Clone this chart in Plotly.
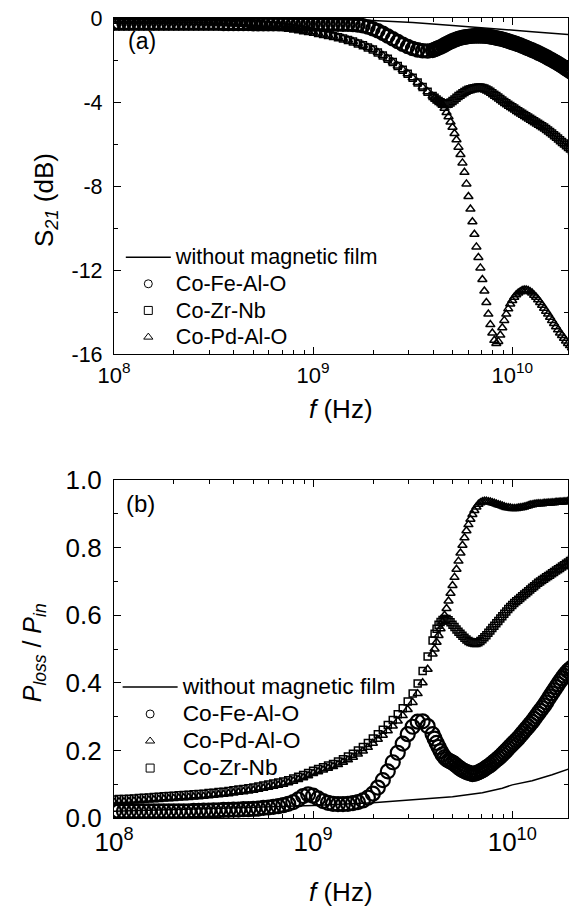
import plotly.graph_objects as go

# ---------------- data (log10 of frequency in Hz) ----------------
LOGF = [8.000, 8.025, 8.050, 8.075, 8.100, 8.125, 8.150, 8.175, 8.200, 8.225,
        8.250, 8.275, 8.300, 8.325, 8.350, 8.375, 8.400, 8.425, 8.450, 8.475,
        8.500, 8.525, 8.550, 8.575, 8.600, 8.625, 8.650, 8.675, 8.700, 8.725,
        8.750, 8.775, 8.800, 8.825, 8.850, 8.875, 8.900, 8.925, 8.950, 8.975,
        9.000, 9.025, 9.050, 9.075, 9.100, 9.125, 9.150, 9.175, 9.200, 9.225,
        9.250, 9.275, 9.300, 9.325, 9.350, 9.375, 9.400, 9.425, 9.450, 9.475,
        9.500, 9.525, 9.550, 9.575, 9.600,
        9.61, 9.62, 9.63, 9.64, 9.65, 9.66, 9.67, 9.68, 9.69, 9.70,
        9.71, 9.72, 9.73, 9.74, 9.75, 9.76, 9.77, 9.78, 9.79, 9.80,
        9.81, 9.82, 9.83, 9.84, 9.85, 9.86, 9.87, 9.88, 9.89, 9.90,
        9.91, 9.92, 9.93, 9.94, 9.95, 9.96, 9.97, 9.98, 9.99, 10.00,
        10.01, 10.02, 10.03, 10.04, 10.05, 10.06, 10.07, 10.08, 10.09, 10.10,
        10.11, 10.12, 10.13, 10.14, 10.15, 10.16, 10.17, 10.18, 10.19, 10.20,
        10.21, 10.22, 10.23, 10.24, 10.25, 10.26, 10.27, 10.28, 10.29, 10.30]

# (a) S21 in dB
s21_cofe = [-0.25, -0.25, -0.25, -0.25, -0.25, -0.25, -0.25, -0.25, -0.25, -0.25,
            -0.25, -0.25, -0.25, -0.25, -0.25, -0.25, -0.25, -0.25, -0.25, -0.25,
            -0.25, -0.25, -0.26, -0.26, -0.26, -0.26, -0.26, -0.26, -0.27, -0.27,
            -0.27, -0.27, -0.27, -0.27, -0.27, -0.27, -0.28, -0.28, -0.28, -0.28,
            -0.28, -0.28, -0.29, -0.29, -0.29, -0.29, -0.30, -0.30, -0.31, -0.33,
            -0.37, -0.43, -0.51, -0.61, -0.73, -0.86, -0.99, -1.12, -1.25, -1.36,
            -1.45, -1.52, -1.56, -1.57, -1.54,
            -1.50, -1.46, -1.42, -1.38, -1.33, -1.28, -1.23, -1.18, -1.13, -1.09,
            -1.05, -1.01, -0.98, -0.95, -0.93, -0.91, -0.89, -0.88, -0.87, -0.86,
            -0.85, -0.85, -0.85, -0.85, -0.85, -0.86, -0.87, -0.88, -0.89, -0.91,
            -0.93, -0.95, -0.97, -0.99, -1.01, -1.04, -1.07, -1.10, -1.13, -1.16,
            -1.19, -1.22, -1.26, -1.29, -1.33, -1.37, -1.41, -1.45, -1.49, -1.53,
            -1.57, -1.61, -1.66, -1.70, -1.75, -1.80, -1.85, -1.90, -1.95, -2.00,
            -2.06, -2.11, -2.17, -2.23, -2.29, -2.35, -2.41, -2.47, -2.53, -2.60]

s21_cozr = [-0.08, -0.08, -0.08, -0.08, -0.09, -0.09, -0.09, -0.10, -0.10, -0.10,
            -0.10, -0.11, -0.11, -0.12, -0.12, -0.12, -0.13, -0.13, -0.14, -0.14,
            -0.15, -0.16, -0.17, -0.19, -0.20, -0.22, -0.23, -0.25, -0.27, -0.29,
            -0.32, -0.34, -0.37, -0.40, -0.43, -0.47, -0.50, -0.54, -0.58, -0.62,
            -0.66, -0.71, -0.76, -0.81, -0.86, -0.92, -0.98, -1.05, -1.12, -1.21,
            -1.30, -1.40, -1.50, -1.64, -1.79, -1.94, -2.10, -2.28, -2.46, -2.65,
            -2.85, -3.07, -3.29, -3.51, -3.72,
            -3.80, -3.88, -3.95, -4.01, -4.06, -4.09, -4.10, -4.08, -4.02, -3.95,
            -3.88, -3.80, -3.72, -3.65, -3.58, -3.52, -3.47, -3.42, -3.39, -3.36,
            -3.34, -3.32, -3.31, -3.31, -3.33, -3.36, -3.40, -3.45, -3.51, -3.58,
            -3.65, -3.72, -3.79, -3.86, -3.93, -4.00, -4.06, -4.13, -4.19, -4.25,
            -4.31, -4.38, -4.44, -4.50, -4.56, -4.62, -4.68, -4.74, -4.80, -4.86,
            -4.92, -4.98, -5.04, -5.10, -5.16, -5.22, -5.29, -5.36, -5.43, -5.50,
            -5.58, -5.66, -5.74, -5.82, -5.90, -5.98, -6.06, -6.14, -6.22, -6.30]

s21_copd = [-0.08, -0.08, -0.08, -0.08, -0.09, -0.09, -0.09, -0.10, -0.10, -0.10,
            -0.10, -0.11, -0.11, -0.12, -0.12, -0.12, -0.13, -0.13, -0.14, -0.14,
            -0.15, -0.16, -0.17, -0.19, -0.20, -0.22, -0.23, -0.25, -0.27, -0.29,
            -0.32, -0.34, -0.37, -0.40, -0.43, -0.47, -0.50, -0.54, -0.58, -0.62,
            -0.66, -0.71, -0.76, -0.81, -0.86, -0.92, -0.98, -1.05, -1.12, -1.21,
            -1.30, -1.40, -1.50, -1.64, -1.79, -1.94, -2.10, -2.28, -2.46, -2.65,
            -2.85, -3.07, -3.29, -3.51, -3.72,
            -3.80, -3.88, -3.95, -4.02, -4.15, -4.30, -4.50, -4.70, -4.95, -5.20,
            -5.50, -5.80, -6.15, -6.50, -6.90, -7.35, -7.90, -8.50, -9.10, -9.70,
            -10.30, -10.90, -11.40, -11.90, -12.45, -13.00, -13.55, -14.10, -14.60, -15.00,
            -15.35, -15.50, -15.40, -15.10, -14.75, -14.40, -14.10, -13.85, -13.62, -13.45,
            -13.30, -13.18, -13.10, -13.03, -12.98, -12.95, -12.95, -12.98, -13.03, -13.10,
            -13.20, -13.30, -13.42, -13.55, -13.68, -13.82, -13.96, -14.10, -14.25, -14.40,
            -14.55, -14.70, -14.85, -15.00, -15.12, -15.25, -15.38, -15.50, -15.60, -15.70]

LOGF_BARE_A = [8.0, 8.5, 9.0, 9.3, 9.5, 9.7, 9.9, 10.1, 10.3]
s21_bare = [-0.02, -0.03, -0.06, -0.12, -0.22, -0.36, -0.52, -0.65, -0.80]

# (b) Ploss / Pin
ploss_cofe = [0.020, 0.020, 0.020, 0.020, 0.020, 0.020, 0.020, 0.020, 0.020, 0.020,
              0.020, 0.020, 0.020, 0.020, 0.020, 0.020, 0.021, 0.021, 0.022, 0.022,
              0.023, 0.023, 0.024, 0.024, 0.025, 0.025, 0.026, 0.026, 0.027, 0.028,
              0.030, 0.031, 0.033, 0.035, 0.038, 0.042, 0.047, 0.055, 0.065, 0.070,
              0.066, 0.058, 0.050, 0.045, 0.042, 0.041, 0.041, 0.042, 0.044, 0.047,
              0.052, 0.060, 0.072, 0.090, 0.112, 0.138, 0.165, 0.193, 0.220, 0.248,
              0.270, 0.285, 0.286, 0.272, 0.248,
              0.235, 0.222, 0.210, 0.198, 0.188, 0.180, 0.174, 0.170, 0.167, 0.164,
              0.160, 0.155, 0.150, 0.146, 0.142, 0.139, 0.136, 0.134, 0.132, 0.130,
              0.131, 0.133, 0.135, 0.138, 0.141, 0.145, 0.149, 0.153, 0.157, 0.162,
              0.167, 0.172, 0.177, 0.182, 0.188, 0.194, 0.200, 0.206, 0.212, 0.218,
              0.224, 0.230, 0.236, 0.243, 0.250, 0.257, 0.264, 0.271, 0.278, 0.285,
              0.293, 0.301, 0.309, 0.317, 0.325, 0.333, 0.342, 0.351, 0.360, 0.369,
              0.378, 0.387, 0.396, 0.405, 0.413, 0.421, 0.428, 0.435, 0.440, 0.445]

ploss_copd = [0.047, 0.048, 0.048, 0.049, 0.050, 0.051, 0.052, 0.053, 0.054, 0.055,
              0.056, 0.057, 0.058, 0.059, 0.060, 0.061, 0.062, 0.063, 0.064, 0.066,
              0.067, 0.069, 0.070, 0.072, 0.074, 0.076, 0.078, 0.080, 0.082, 0.085,
              0.088, 0.091, 0.094, 0.097, 0.100, 0.104, 0.109, 0.114, 0.119, 0.125,
              0.132, 0.137, 0.142, 0.147, 0.152, 0.158, 0.165, 0.172, 0.180, 0.189,
              0.198, 0.209, 0.221, 0.233, 0.245, 0.258, 0.272, 0.287, 0.303, 0.321,
              0.342, 0.368, 0.400, 0.440, 0.485,
              0.500, 0.520, 0.540, 0.560, 0.580, 0.600, 0.620, 0.642, 0.665, 0.688,
              0.712, 0.736, 0.760, 0.784, 0.807, 0.829, 0.850, 0.868, 0.884, 0.898,
              0.910, 0.920, 0.928, 0.933, 0.936, 0.937, 0.937, 0.936, 0.935, 0.933,
              0.931, 0.929, 0.927, 0.925, 0.923, 0.921, 0.919, 0.918, 0.917, 0.916,
              0.916, 0.916, 0.917, 0.918, 0.919, 0.920, 0.922, 0.924, 0.926, 0.927,
              0.928, 0.929, 0.930, 0.930, 0.930, 0.931, 0.931, 0.932, 0.932, 0.933,
              0.933, 0.934, 0.934, 0.935, 0.935, 0.936, 0.936, 0.937, 0.937, 0.938]

ploss_cozr = [0.055, 0.056, 0.056, 0.057, 0.058, 0.059, 0.060, 0.061, 0.062, 0.063,
              0.064, 0.065, 0.066, 0.067, 0.068, 0.069, 0.070, 0.071, 0.072, 0.074,
              0.075, 0.077, 0.078, 0.080, 0.082, 0.084, 0.086, 0.088, 0.090, 0.093,
              0.096, 0.099, 0.102, 0.105, 0.108, 0.112, 0.117, 0.122, 0.127, 0.133,
              0.140, 0.145, 0.150, 0.155, 0.160, 0.167, 0.174, 0.182, 0.190, 0.200,
              0.210, 0.222, 0.235, 0.248, 0.261, 0.275, 0.290, 0.307, 0.325, 0.345,
              0.368, 0.398, 0.435, 0.478, 0.525,
              0.545, 0.560, 0.572, 0.580, 0.586, 0.589, 0.589, 0.585, 0.579, 0.572,
              0.565, 0.558, 0.551, 0.545, 0.539, 0.533, 0.528, 0.524, 0.521, 0.519,
              0.518, 0.518, 0.520, 0.524, 0.529, 0.535, 0.541, 0.548, 0.555, 0.562,
              0.569, 0.576, 0.583, 0.590, 0.597, 0.604, 0.611, 0.618, 0.624, 0.630,
              0.636, 0.641, 0.646, 0.651, 0.656, 0.661, 0.666, 0.671, 0.676, 0.681,
              0.686, 0.691, 0.696, 0.700, 0.704, 0.708, 0.712, 0.716, 0.720, 0.724,
              0.728, 0.732, 0.736, 0.740, 0.744, 0.748, 0.752, 0.756, 0.760, 0.764]

LOGF_BARE_B = [8.0, 8.5, 9.0, 9.3, 9.5, 9.7, 9.85, 9.95, 10.0, 10.1, 10.2, 10.3]
ploss_bare = [0.020, 0.028, 0.037, 0.045, 0.053, 0.063, 0.075, 0.088, 0.098, 0.110, 0.128, 0.148]

X_TICKS = [1e8, 1e9, 1e10]
X_TICKTEXT = ["10<sup>8</sup>", "10<sup>9</sup>", "10<sup>10</sup>"]
YA_TICKS = [0, -4, -8, -12, -16]
YA_TICKTEXT = ["0", "-4", "-8", "-12", "-16"]
YB_TICKS = [0.0, 0.2, 0.4, 0.6, 0.8, 1.0]
YB_TICKTEXT = ["0.0", "0.2", "0.4", "0.6", "0.8", "1.0"]

for arr in (s21_cofe, s21_cozr, s21_copd, ploss_cofe, ploss_copd, ploss_cozr):
    assert len(arr) == len(LOGF), len(arr)

freq = [10 ** v for v in LOGF]
f_bare_a = [10 ** v for v in LOGF_BARE_A]
f_bare_b = [10 ** v for v in LOGF_BARE_B]
x_minor = [m * 10 ** e for e in (8, 9, 10) for m in range(2, 10)]

FONT = "Liberation Sans, Arial, sans-serif"
K = "black"

fig = go.Figure()

def mk(symbol, size, lw):
    return dict(symbol=symbol, size=size, color=K, line=dict(width=lw, color=K))

# ---- panel (a)
fig.add_trace(go.Scatter(x=freq, y=s21_cofe, mode="markers", marker=mk("circle-open", 13, 2.6),
                         xaxis="x", yaxis="y", showlegend=False))
fig.add_trace(go.Scatter(x=freq, y=s21_copd, mode="markers", marker=mk("triangle-up-open", 8, 1.5),
                         xaxis="x", yaxis="y", showlegend=False))
fig.add_trace(go.Scatter(x=freq, y=s21_cozr, mode="markers", marker=mk("square-open", 7, 1.5),
                         xaxis="x", yaxis="y", showlegend=False))
fig.add_trace(go.Scatter(x=f_bare_a, y=s21_bare, mode="lines", line=dict(color=K, width=1.5),
                         xaxis="x", yaxis="y", showlegend=False))

# ---- panel (b)
fig.add_trace(go.Scatter(x=freq, y=ploss_cofe, mode="markers", marker=mk("circle-open", 14, 2.2),
                         xaxis="x2", yaxis="y2", showlegend=False))
fig.add_trace(go.Scatter(x=freq, y=ploss_copd, mode="markers", marker=mk("triangle-up-open", 8, 1.5),
                         xaxis="x2", yaxis="y2", showlegend=False))
fig.add_trace(go.Scatter(x=freq, y=ploss_cozr, mode="markers", marker=mk("square-open", 7, 1.5),
                         xaxis="x2", yaxis="y2", showlegend=False))
fig.add_trace(go.Scatter(x=f_bare_b, y=ploss_bare, mode="lines", line=dict(color=K, width=1.5),
                         xaxis="x2", yaxis="y2", showlegend=False))

# ---- legend entries
def leg(name, legend, axx, axy, px, symbol=None):
    label = '<span style="font-size:%spx">%s</span>' % (px, name)
    if symbol is None:
        return go.Scatter(x=[None], y=[None], mode="lines", line=dict(color=K, width=1.5),
                          name=label, legend=legend, xaxis=axx, yaxis=axy)
    return go.Scatter(x=[None], y=[None], mode="markers",
                      marker=dict(symbol=symbol, size=8, color=K, line=dict(width=1, color=K)),
                      name=label, legend=legend, xaxis=axx, yaxis=axy)

fig.add_trace(leg("without magnetic film", "legend", "x", "y", 21.6))
fig.add_trace(leg("Co-Fe-Al-O", "legend", "x", "y", 21.6, "circle-open"))
fig.add_trace(leg("Co-Zr-Nb", "legend", "x", "y", 21.6, "square-open"))
fig.add_trace(leg("Co-Pd-Al-O", "legend", "x", "y", 21.6, "triangle-up-open"))
fig.add_trace(leg("without magnetic film", "legend2", "x2", "y2", 22.8))
fig.add_trace(leg("Co-Fe-Al-O", "legend2", "x2", "y2", 22.8, "circle-open"))
fig.add_trace(leg("Co-Pd-Al-O", "legend2", "x2", "y2", 22.8, "triangle-up-open"))
fig.add_trace(leg("Co-Zr-Nb", "legend2", "x2", "y2", 22.8, "square-open"))

def xax(anchor, size):
    return dict(type="log", range=[8, 10.28], domain=[0, 1], anchor=anchor,
                showline=True, mirror="ticks", linecolor=K, linewidth=1.3,
                ticks="inside", ticklen=7, tickwidth=1.2, tickcolor=K,
                tickmode="array", tickvals=X_TICKS, ticktext=X_TICKTEXT,
                tickfont=dict(size=size, family=FONT, color=K),
                minor=dict(tickmode="array", tickvals=x_minor, ticks="inside", ticklen=4,
                           tickwidth=1, tickcolor=K, showgrid=False),
                showgrid=False, zeroline=False, ticklabelstandoff=1)

def yax(anchor, rng, dom, tv, tt, minor, size):
    return dict(range=rng, domain=dom, anchor=anchor,
                showline=True, mirror="ticks", linecolor=K, linewidth=1.3,
                ticks="inside", ticklen=7, tickwidth=1.2, tickcolor=K,
                tickmode="array", tickvals=tv, ticktext=tt,
                tickfont=dict(size=size, family=FONT, color=K),
                minor=dict(tickmode="array", tickvals=minor, ticks="inside", ticklen=4,
                           tickwidth=1, tickcolor=K, showgrid=False),
                showgrid=False, zeroline=False, ticklabelstandoff=6)

fig.update_layout(
    width=571, height=909,
    margin=dict(l=114, r=3, t=18, b=91),
    paper_bgcolor="white", plot_bgcolor="white",
    font=dict(family=FONT, color=K, size=21),
    xaxis=xax("y", 22),
    yaxis=yax("x", [-16, 0], [0.58, 1.0], YA_TICKS, YA_TICKTEXT, [-2, -6, -10, -14], 21.5),
    xaxis2=xax("y2", 26),
    yaxis2=yax("x2", [0, 1], [0, 0.4225], YB_TICKS, YB_TICKTEXT, [0.1, 0.3, 0.5, 0.7, 0.9], 26),
    legend=dict(x=0.015, y=0.724, xanchor="left", yanchor="top", bgcolor="rgba(0,0,0,0)",
                borderwidth=0, font=dict(size=18.2, family=FONT, color=K), itemwidth=45,
                tracegroupgap=0),
    legend2=dict(x=0.008, y=0.187, xanchor="left", yanchor="top", bgcolor="rgba(0,0,0,0)",
                 borderwidth=0, font=dict(size=18.5, family=FONT, color=K), itemwidth=55,
                 tracegroupgap=0),
    annotations=[
        dict(text="(a)", x=0.026, y=0.971, xref="paper", yref="paper", xanchor="left",
             yanchor="middle", showarrow=False, font=dict(size=23, family=FONT, color=K)),
        dict(text="(b)", x=0.022, y=0.3925, xref="paper", yref="paper", xanchor="left",
             yanchor="middle", showarrow=False, font=dict(size=24, family=FONT, color=K)),
        dict(text="<i>f</i> (Hz)", x=0.5, y=0.51125, xref="paper", yref="paper",
             xanchor="center", yanchor="middle", showarrow=False,
             font=dict(size=26, family=FONT, color=K)),
        dict(text="<i>f</i> (Hz)", x=0.5, y=-0.0925, xref="paper", yref="paper",
             xanchor="center", yanchor="middle", showarrow=False,
             font=dict(size=26, family=FONT, color=K)),
        dict(text="S<sub><i>21</i></sub> (dB)", x=-0.152, y=0.7725, xref="paper", yref="paper",
             xanchor="center", yanchor="middle", textangle=-90, showarrow=False,
             font=dict(size=26, family=FONT, color=K)),
        dict(text="<i>P</i><sub><i>loss</i></sub> / <i>P</i><sub><i>in</i></sub>",
             x=-0.176, y=0.206, xref="paper", yref="paper",
             xanchor="center", yanchor="middle", textangle=-90, showarrow=False,
             font=dict(size=25, family=FONT, color=K)),
    ],
)

fig.write_html("out.html", config={"displayModeBar": False},
               post_script="document.body.style.margin='0px';document.body.style.overflow='hidden';")
